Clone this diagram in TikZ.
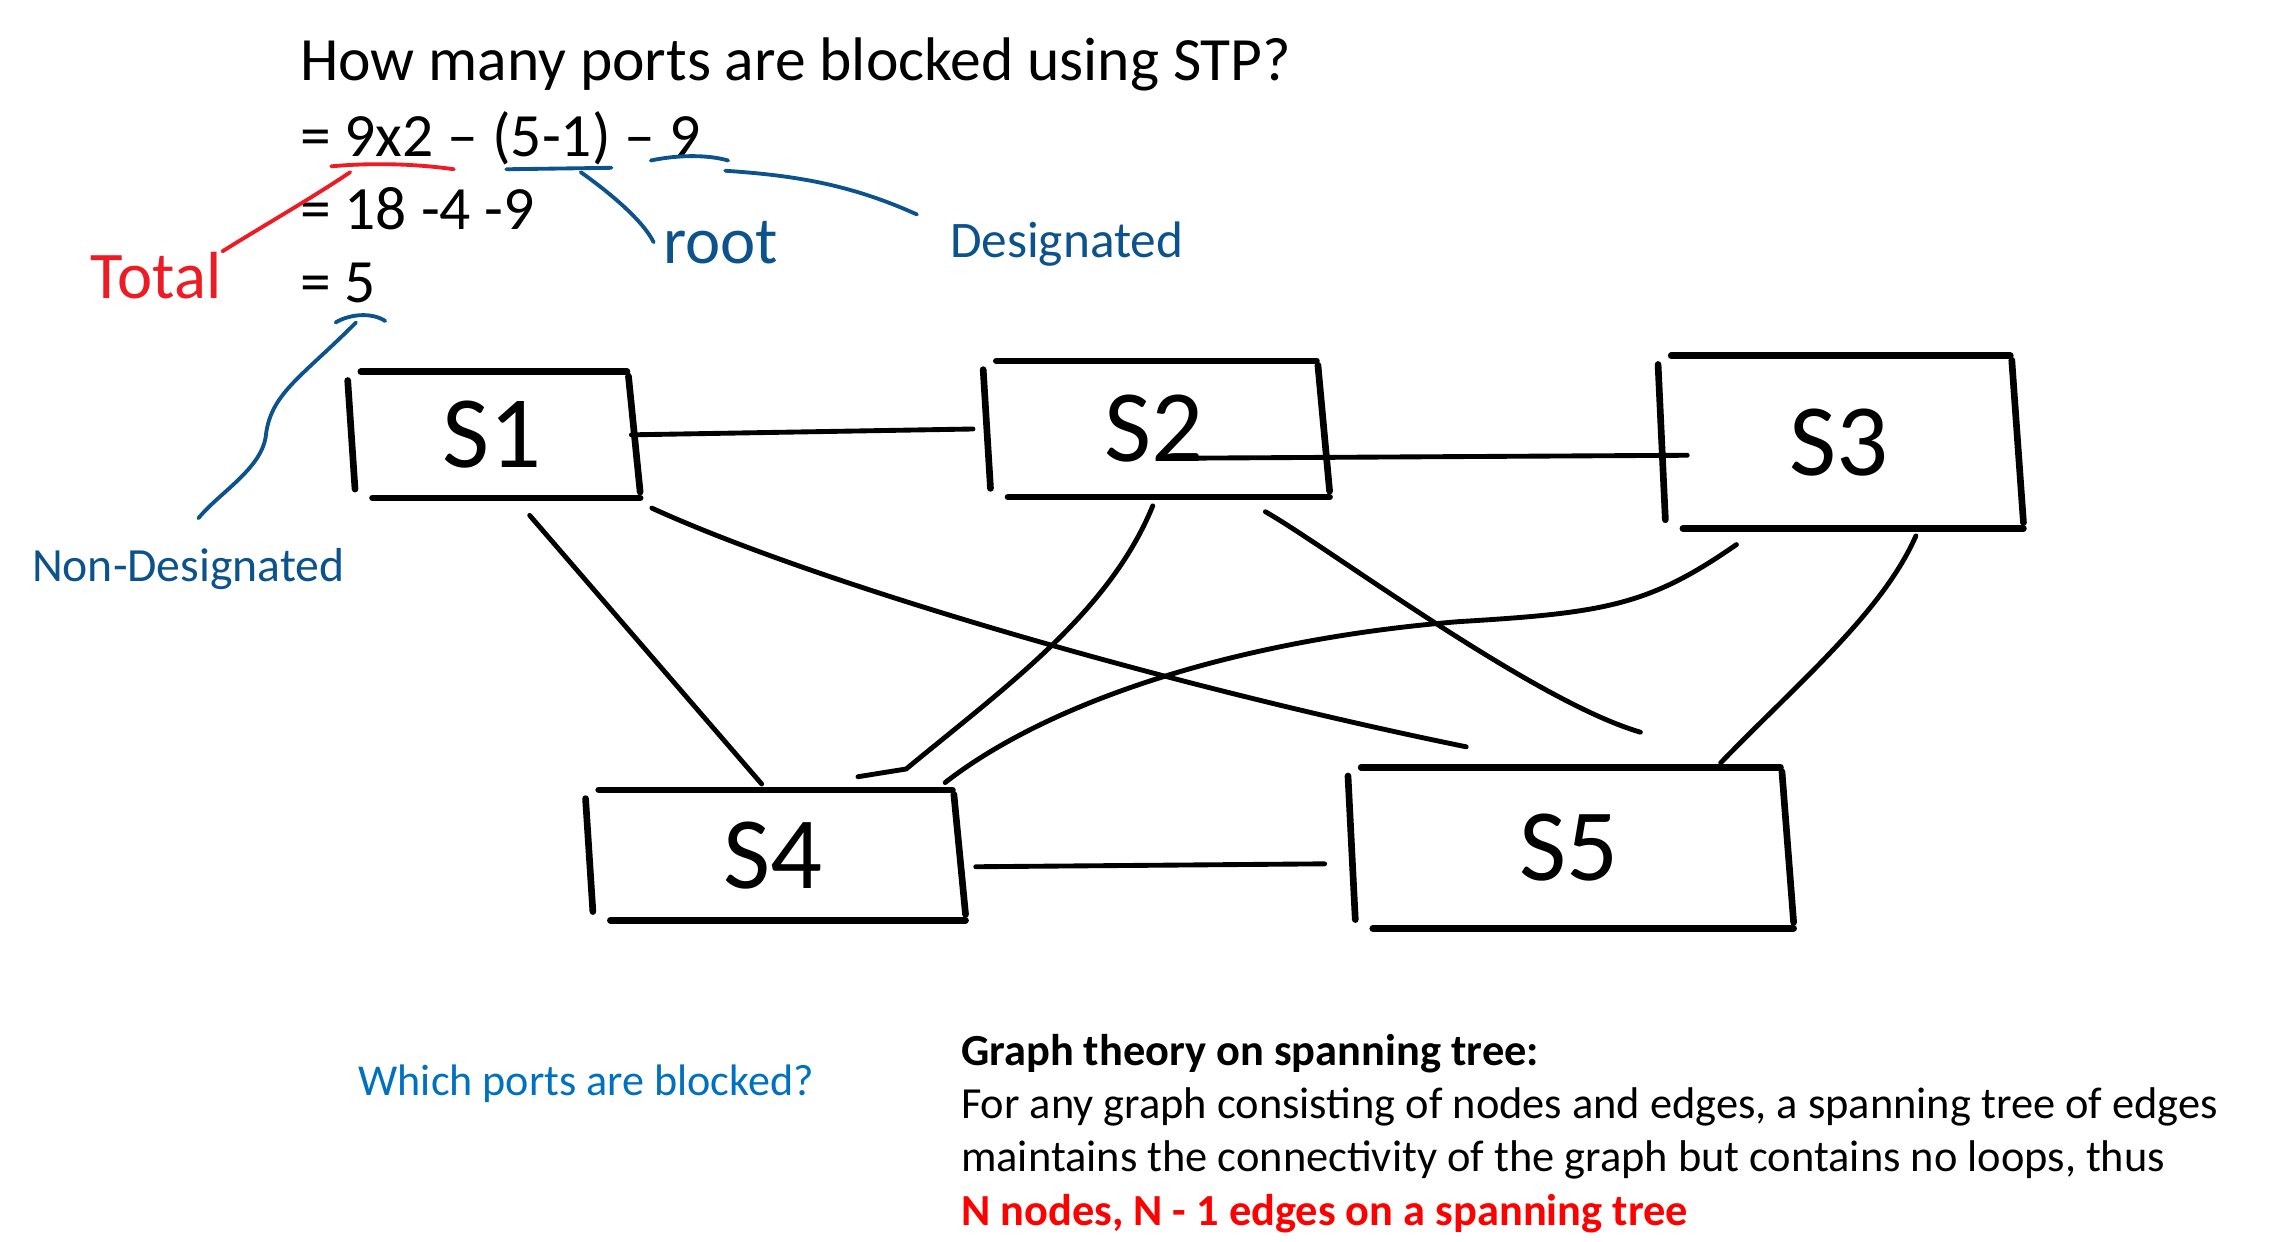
\documentclass[tikz,border=0pt]{standalone}
\usepackage{fontspec}
\setmainfont{Carlito}
\usetikzlibrary{positioning}
\definecolor{penred}{RGB}{237,28,36}
\definecolor{penblue}{RGB}{12,82,140}
\definecolor{noteblue}{RGB}{0,112,192}
\definecolor{rulered}{RGB}{255,0,0}
\tikzset{
  pen/.style={
    draw,
    line width=1.3pt,
    line cap=round
  },
  link/.style={
    line width=0.95pt,
    line cap=round
  },
  inkRed/.style={
    draw=penred,
    line width=0.75pt,
    line cap=round
  },
  inkBlue/.style={
    draw=penblue,
    line width=0.75pt,
    line cap=round
  },
  switchBox/.style={
    inner sep=0pt,
    font=\fontsize{20}{20}\selectfont,
    append after command={
      ([shift={(-3,6)}]\tikzlastnode.north west) edge[pen] ([shift={(2,-6)}]\tikzlastnode.south west)
      ([shift={(6,0)}]\tikzlastnode.north west) edge[pen] ([shift={(-3,0)}]\tikzlastnode.north east)
      ([shift={(-2,3)}]\tikzlastnode.north east) edge[pen] ([shift={(6,-4)}]\tikzlastnode.south east)
      ([shift={(14,0)}]\tikzlastnode.south west) edge[pen] ([shift={(6,0)}]\tikzlastnode.south east)
    }
  },
  handNote/.style={
    inner sep=0pt,
    text=penblue,
    font=\fontsize{10}{12}\selectfont
  },
  mathLine/.style={
    anchor=base west,
    inner sep=0pt,
    font=\fontsize{12}{14}\selectfont
  }
}

\begin{document}
\begin{tikzpicture}[x=0.1mm, y=-0.1mm]
  \useasboundingbox (0,0) rectangle (1568,851);

  % question and working
  \node[mathLine] (question) at (205,55.5) {How many ports are blocked using STP?};
  \node[mathLine] (eqA) at (205,107) {= 9x2 – (5-1) – 9};
  \node[mathLine] (eqB) at (205,157) {= 18 -4 -9};
  \node[mathLine] (eqC) at (205,207) {= 5};

  % handwritten notes
  \node[handNote, text=penred, font=\fontsize{13}{13}\selectfont] (total) at (107,189) {Total};
  \node[handNote, font=\fontsize{13}{13}\selectfont] (root) at (494,166) {root};
  \node[handNote] (desig) at (731,167) {Designated};
  \node[handNote, font=\fontsize{9.3}{11}\selectfont] (nondesig) at (129,390) {Non-Designated};

  \coordinate (markTotal) at (240,118);
  \coordinate (markRoot) at (398,118);
  \coordinate (markDesig) at (497,117);
  \coordinate (markBlocked) at (244,221);

  \draw[inkRed] (227,114) .. controls (260,111) and (290,113) .. (311,116);
  \draw[inkBlue] (347,116) -- (419,115);
  \draw[inkBlue] (446,110) .. controls (465,106) and (485,106) .. (499,110);
  \draw[inkBlue] (230,221) .. controls (240,215) and (255,214) .. (264,220);

  \draw[inkRed] (markTotal) .. controls (215,135) and (175,158) .. (total.north east);
  \draw[inkBlue] (markRoot) .. controls (415,130) and (440,150) .. ([shift={(-6,0)}]root.west);
  \draw[inkBlue] (markDesig) .. controls (540,120) and (580,125) .. ([shift={(-22,-20)}]desig.west);
  \draw[inkBlue] (markBlocked) .. controls (205,260) and (185,270) .. (182,300)
    .. controls (178,322) and (150,338) .. ([shift={(7,-20)}]nondesig.north);

  % switches
  \node[switchBox, minimum width=19mm, minimum height=8.5mm] (S1) at (337,298) {S1};
  \node[switchBox, minimum width=22.7mm, minimum height=9.2mm] (S2) at (791,294) {S2};
  \node[switchBox, minimum width=24mm, minimum height=11.7mm] (S3) at (1260,303) {S3};
  \node[switchBox, minimum width=25mm, minimum height=8.8mm] (S4) at (530,586) {S4};
  \node[switchBox, minimum width=29.5mm, minimum height=10.9mm] (S5) at (1075,581) {S5};

  % links
  \draw[link] (S1.east) -- ([shift={(-10,0)}]S2.west);
  \draw[link] ([shift={(22,20)}]S2.center) -- ([shift={(17,9)}]S3.west);
  \draw[link] ([shift={(13,8)}]S4.east) -- ([shift={(-19,11)}]S5.west);
  \draw[link] ([shift={(26,12)}]S1.south) -- ([shift={(-8,-4)}]S4.north);
  \draw[link] ([shift={(14,7)}]S1.south east) .. controls (560,400) and (800,470)
    .. ([shift={(78,-14)}]S5.north west);
  \draw[link] ([shift={(-1,6)}]S2.south) .. controls (760,420) and (690,470)
    .. (621,527) -- ([shift={(58,-9)}]S4.north);
  \draw[link] ([shift={(-38,10)}]S2.south east) .. controls (910,375) and (1050,480)
    .. ([shift={(-99,-24)}]S5.north east);
  \draw[link] ([shift={(-70,11)}]S3.south) .. controls (1130,415) and (1100,420)
    .. (1000,426) .. controls (850,438) and (720,480) .. ([shift={(-8,-5)}]S4.north east);
  \draw[link] ([shift={(53,5)}]S3.south) .. controls (1290,420) and (1230,470)
    .. ([shift={(-44,-3)}]S5.north east);

  % bottom text
  \node[anchor=base west, inner sep=0pt, text=noteblue, font=\fontsize{8.6}{10}\selectfont]
    (blocked) at (245,751) {Which ports are blocked?};
  \node[anchor=north west, align=left, inner sep=0pt, font=\fontsize{8.66}{10.4}\selectfont]
    (theory) at (658,708) {\textbf{Graph theory on spanning tree:}\\
    For any graph consisting of nodes and edges, a spanning tree of edges\\
    maintains the connectivity of the graph but contains no loops, thus\\
    \textcolor{rulered}{\textbf{N nodes, N - 1 edges on a spanning tree}}};
\end{tikzpicture}
\end{document}
